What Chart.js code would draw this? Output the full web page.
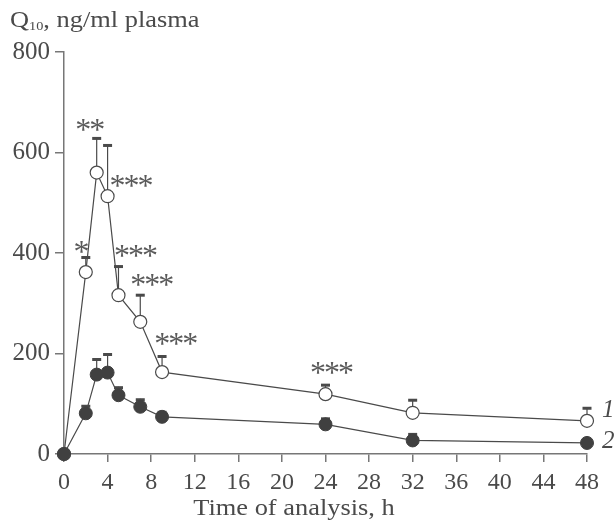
<!DOCTYPE html>
<html>
<head>
<meta charset="utf-8">
<script src="https://cdn.jsdelivr.net/npm/chart.js@4/dist/chart.umd.min.js"></script>
<style>
	html,body{margin:0;padding:0;background:#fff;}
	#wrap{position:relative;width:614px;height:527px;}
</style>
</head>
<body>
<div id="wrap"><canvas id="chartCanvas" width="614" height="527"></canvas></div>
<script>
// time points, h
const hours = [0, 2, 3, 4, 5, 7, 9, 24, 32, 48];
// series 1 (open circles) and series 2 (filled circles), ng/ml
const series1 = [0, 362, 560, 513, 316, 263, 163, 119, 82, 66];
const series2 = [0, 81, 158, 162, 117, 94, 74, 59, 27, 22];
// top of error bars
const err1 = [0, 393, 630, 616, 375, 318, 196, 139, 109, 93];
const err2 = [0, 97, 190, 200, 134, 110, 85, 72, 41, 22];
// significance marks
const starText = ['*', '**', '***', '***', '***', '***', '***'];
const starX = [1.6, 2.4, 6.2, 6.6, 8.1, 10.3, 24.6];
const starY = [409, 652, 541, 401, 344, 226, 167];
// axis ticks
const xTicks = [0, 4, 8, 12, 16, 20, 24, 28, 32, 36, 40, 44, 48];
const yTicks = [0, 200, 400, 600, 800];
const seriesLabels = ['1', '2'];

const ink = '#4a4a4a';
const serif = '"Liberation Serif", "Times New Roman", serif';

function toPoints(ys){
	return hours.map(function(h, i){ return {x: h, y: ys[i]}; });
}

// error bars drawn under the markers
const errorBars = {
	id: 'errorBars',
	beforeDatasetsDraw(chart){
		const ctx = chart.ctx;
		const xs = chart.scales.x, ys = chart.scales.y;
		[[series1, err1], [series2, err2]].forEach(function(pair){
			hours.forEach(function(h, i){
				if (pair[1][i] <= pair[0][i]) return;
				const px = xs.getPixelForValue(h);
				const p0 = ys.getPixelForValue(pair[0][i]);
				const p1 = ys.getPixelForValue(pair[1][i]);
				ctx.save();
				ctx.strokeStyle = ink;
				ctx.lineWidth = 1.2;
				ctx.beginPath();
				ctx.moveTo(px, p0);
				ctx.lineTo(px, p1);
				ctx.stroke();
				ctx.lineWidth = 3;
				ctx.beginPath();
				ctx.moveTo(px - 4.5, p1 + 1);
				ctx.lineTo(px + 4.5, p1 + 1);
				ctx.stroke();
				ctx.restore();
			});
		});
	}
};

// texts: stars, titles, series numbers
const texts = {
	id: 'texts',
	afterDraw(chart){
		const ctx = chart.ctx;
		const xs = chart.scales.x, ys = chart.scales.y;
		ctx.save();
		ctx.fillStyle = '#5a5a5a';
		ctx.textAlign = 'center';
		ctx.textBaseline = 'middle';
		ctx.font = '32px ' + serif;
		starText.forEach(function(t, i){
			const px = xs.getPixelForValue(starX[i]);
			const py = ys.getPixelForValue(starY[i]);
			const w = 14;
			const n = t.length;
			for (let k = 0; k < n; k++){
				ctx.fillText('*', px + (k - (n - 1) / 2) * w, py + 5);
			}
		});
		ctx.fillStyle = ink;

		// y title with subscript (slightly wide face, as in the print)
		ctx.save();
		ctx.translate(10, 0);
		ctx.scale(1.1, 1);
		ctx.textAlign = 'left';
		ctx.textBaseline = 'alphabetic';
		ctx.font = '24px ' + serif;
		ctx.fillText('Q', 0, 27);
		let qx = ctx.measureText('Q').width;
		ctx.font = '13px ' + serif;
		ctx.fillText('10', qx, 30);
		qx += ctx.measureText('10').width;
		ctx.font = '24px ' + serif;
		ctx.fillText(', ng/ml plasma', qx, 27);
		ctx.restore();

		// x title
		ctx.save();
		ctx.translate(294, 515);
		ctx.scale(1.1, 1);
		ctx.textAlign = 'center';
		ctx.textBaseline = 'alphabetic';
		ctx.font = '24px ' + serif;
		ctx.fillText('Time of analysis, h', 0, 0);
		ctx.restore();

		// series numbers
		ctx.textAlign = 'left';
		ctx.textBaseline = 'middle';
		ctx.font = 'italic 25px ' + serif;
		ctx.fillText(seriesLabels[0], 602, ys.getPixelForValue(series1[9]) - 10);
		ctx.fillText(seriesLabels[1], 602, ys.getPixelForValue(series2[9]) - 2);
		ctx.restore();
	}
};

const chart = new Chart(document.getElementById('chartCanvas').getContext('2d'), {
	type: 'line',
	data: {
		datasets: [{
			label: seriesLabels[0],
			data: toPoints(series1),
			order: 1,
			borderColor: ink,
			borderWidth: 1.2,
			pointRadius: 6.5,
			pointBackgroundColor: '#fff',
			pointBorderColor: ink,
			pointBorderWidth: 1.2,
			tension: 0,
			clip: false
		}, {
			label: seriesLabels[1],
			data: toPoints(series2),
			order: 0,
			borderColor: ink,
			borderWidth: 1.2,
			pointRadius: 6.5,
			pointBackgroundColor: '#404040',
			pointBorderColor: '#404040',
			pointBorderWidth: 1,
			tension: 0,
			clip: false
		}]
	},
	options: {
		responsive: false,
		animation: false,
		events: [],
		layout: {padding: {left: 0, right: 27, top: 52, bottom: 0}},
		plugins: {legend: {display: false}, tooltip: {enabled: false}},
		scales: {
			x: {
				type: 'linear',
				min: 0, max: 48,
				afterBuildTicks(scale){ scale.ticks = xTicks.map(function(v){ return {value: v}; }); },
				afterFit(scale){ scale.height = 73; },
				border: {display: true, color: '#777', width: 1.5},
				grid: {drawOnChartArea: false, drawTicks: true, tickLength: 8, color: '#777', lineWidth: 1.5},
				ticks: {color: ink, font: {family: serif, size: 24}, padding: 6, maxRotation: 0, autoSkip: false}
			},
			y: {
				min: 0, max: 800,
				afterBuildTicks(scale){ scale.ticks = yTicks.map(function(v){ return {value: v}; }); },
				afterFit(scale){ scale.width = 64; },
				border: {display: true, color: '#777', width: 1.5},
				grid: {drawOnChartArea: false, drawTicks: true, tickLength: 9, color: '#777', lineWidth: 1.5},
				ticks: {color: ink, font: {family: serif, size: 25}, padding: 5}
			}
		}
	},
	plugins: [errorBars, texts]
});
</script>
</body>
</html>
